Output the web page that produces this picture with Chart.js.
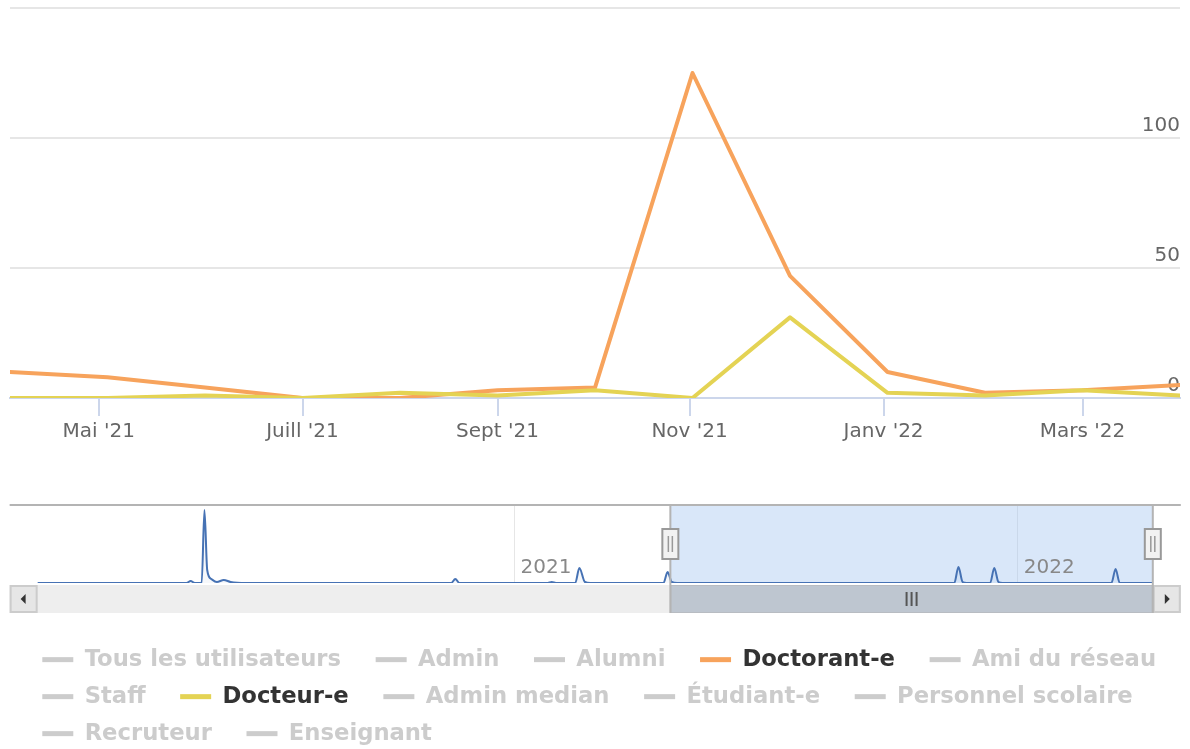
<!DOCTYPE html>
<html>
<head>
<meta charset="utf-8">
<script src="https://cdn.jsdelivr.net/npm/chart.js@4.4.1/dist/chart.umd.min.js"></script>
<style>
body { margin: 0; background: #fff; overflow: hidden; }
canvas { display: block; }
</style>
</head>
<body>
<canvas id="mainChart" width="1190" height="470"></canvas>
<canvas id="navChart" width="1230" height="285"></canvas>
<script>
// monthly values, one point per month (Avr '21 -> Avr '22), ordinal spacing
var months = ["Avr '21", "Mai '21", "Juin '21", "Juill '21", "Août '21", "Sept '21", "Oct '21",
              "Nov '21", "Déc '21", "Janv '22", "Févr '22", "Mars '22", "Avr '22"];
var doctorant = [10, 8, 4, 0, 0, 3, 4, 125, 47, 10, 2, 3, 5];
var docteur   = [0, 0, 1, 0, 2, 1, 3, 0, 31, 2, 1, 3, 1];
// x axis ticks (month starts, in point-index units) and their labels
var tickPos    = [0.91, 3, 5, 6.97, 8.96, 11];
var tickLabels = ["Mai '21", "Juill '21", "Sept '21", "Nov '21", "Janv '22", "Mars '22"];

// legend entries (only two are switched on)
var seriesNames = ["Tous les utilisateurs", "Admin", "Alumni", "Doctorant-e", "Ami du réseau",
                   "Staff", "Docteur-e", "Admin median", "Étudiant-e", "Personnel scolaire",
                   "Recruteur", "Enseignant"];
var seriesColors = ["#7cb5ec", "#434348", "#90ed7d", "#f7a35c", "#8085e9", "#f15c80",
                    "#e4d354", "#2b908f", "#f45b5b", "#91e8e1", "#7cb5ec", "#434348"];
var shownSeries = ["Doctorant-e", "Docteur-e"];

// navigator series (daily totals, mostly zero)
var navDates = ['2020-01-21', '2020-05-08', '2020-05-11', '2020-05-14', '2020-05-19', '2020-05-21',
  '2020-05-23', '2020-05-26', '2020-05-30', '2020-06-04', '2020-06-09', '2020-06-20',
  '2020-11-16', '2020-11-19', '2020-11-22', '2021-01-25', '2021-01-28', '2021-01-31',
  '2021-02-14', '2021-02-17', '2021-02-21', '2021-02-25', '2021-04-19', '2021-04-22',
  '2021-04-25', '2021-04-29', '2021-11-16', '2021-11-19', '2021-11-22', '2021-11-25',
  '2021-12-12', '2021-12-15', '2021-12-18', '2021-12-21', '2022-03-10', '2022-03-13',
  '2022-03-16', '2022-04-09'];
var navValues = [0, 0, 2, 0, 0, 73,
  13, 4, 1, 3, 1, 0,
  0, 4, 0, 0, 1, 0,
  0, 15, 1, 0, 0, 11,
  1, 0, 0, 16, 1, 0,
  0, 15, 1, 0, 0, 14,
  0, 0];
var yearTicks = ['2021-01-01', '2022-01-01'];
var yearLabels = ['2021', '2022'];
var navViewStart = '2020-01-14', navViewEnd = '2022-06-04';
var selStart = '2021-04-24', selEnd = '2022-04-09';

var FONT = 'DejaVu Sans';
Chart.defaults.font.family = FONT;

function day(s) {
  var p = s.split('-');
  return (Date.UTC(+p[0], p[1] - 1, +p[2]) - Date.UTC(2020, 0, 1)) / 86400000;
}

new Chart(document.getElementById('mainChart'), {
  type: 'line',
  data: {
    datasets: [
      {
        label: 'Docteur-e',
        data: docteur.map(function(v, i) { return {x: i, y: v}; }),
        borderColor: '#e4d354',
        borderWidth: 4
      },
      {
        label: 'Doctorant-e',
        data: doctorant.map(function(v, i) { return {x: i, y: v}; }),
        borderColor: '#f7a35c',
        borderWidth: 4
      }
    ]
  },
  options: {
    responsive: false,
    animation: false,
    layout: {padding: {top: 8, left: 10, right: 10, bottom: 0}},
    elements: {
      point: {radius: 0},
      line: {tension: 0, borderJoinStyle: 'round', borderCapStyle: 'round'}
    },
    plugins: {legend: {display: false}, tooltip: {enabled: false}},
    scales: {
      x: {
        type: 'linear',
        min: 0,
        max: months.length - 1,
        afterBuildTicks: function(s) { s.ticks = tickPos.map(function(v) { return {value: v}; }); },
        afterFit: function(s) { s.height = 72; s.paddingLeft = 0; s.paddingRight = 0; },
        ticks: {
          callback: function(v, i) { return tickLabels[i]; },
          color: '#666666',
          font: {size: 20},
          padding: 4,
          maxRotation: 0,
          autoSkip: false
        },
        grid: {drawOnChartArea: false, tickLength: 18, color: '#ccd6eb', lineWidth: 2},
        border: {color: '#ccd6eb', width: 2}
      },
      y: {
        position: 'right',
        min: 0,
        max: 150,
        afterFit: function(s) { s.width = 0; s.paddingTop = 0; s.paddingBottom = 0; },
        ticks: {
          stepSize: 50,
          mirror: true,
          padding: 0,
          labelOffset: -12,
          color: '#666666',
          font: {size: 20},
          callback: function(v) { return v >= 150 ? '' : v; }
        },
        grid: {color: '#e6e6e6', lineWidth: 2, drawTicks: false},
        border: {display: false}
      }
    }
  }
});

// navigator mask, outline, handles, year labels and scrollbar
var navDecor = {
  id: 'navDecor',
  beforeDatasetsDraw: function(chart) {
    var ctx = chart.ctx, a = chart.chartArea, x = chart.scales.x;
    var x1 = x.getPixelForValue(day(selStart)), x2 = x.getPixelForValue(day(selEnd));
    ctx.save();
    ctx.fillStyle = 'rgba(160,196,240,0.4)';
    ctx.fillRect(x1, a.top, x2 - x1, a.bottom - a.top);
    ctx.restore();
  },
  afterDatasetsDraw: function(chart) {
    var ctx = chart.ctx, a = chart.chartArea, x = chart.scales.x;
    var n0 = x.getPixelForValue(day(navDates[0]));
    var n1 = x.getPixelForValue(day(navDates[navDates.length - 1]));
    var x1 = x.getPixelForValue(day(selStart)), x2 = x.getPixelForValue(day(selEnd));
    var sb = 28, sy = a.bottom + 2;
    ctx.save();

    // year labels
    ctx.fillStyle = '#888888';
    ctx.font = '20px "' + FONT + '"';
    ctx.textBaseline = 'middle';
    ctx.textAlign = 'left';
    yearTicks.forEach(function(d, i) {
      ctx.fillText(yearLabels[i], x.getPixelForValue(day(d)) + 6, a.bottom - 15);
    });

    // scrollbar track + buttons
    ctx.fillStyle = '#eeeeee';
    ctx.fillRect(n0, sy, n1 - n0, sb);
    ctx.fillStyle = '#bec6d0';
    ctx.fillRect(x1, sy, x2 - x1, sb);
    ctx.strokeStyle = '#b8bcc2';
    ctx.lineWidth = 1;
    ctx.strokeRect(x1 + 0.5, sy + 0.5, x2 - x1 - 1, sb - 1);
    [n0 - sb, n1].forEach(function(bx) {
      ctx.fillStyle = '#e6e6e6';
      ctx.fillRect(bx, sy, sb, sb);
      ctx.strokeStyle = '#cccccc';
      ctx.lineWidth = 2;
      ctx.strokeRect(bx + 1, sy + 1, sb - 2, sb - 2);
    });
    ctx.fillStyle = '#333333';
    var cy = sy + sb / 2;
    ctx.beginPath();
    ctx.moveTo(n0 - sb / 2 - 3, cy); ctx.lineTo(n0 - sb / 2 + 2, cy - 5); ctx.lineTo(n0 - sb / 2 + 2, cy + 5);
    ctx.closePath(); ctx.fill();
    ctx.beginPath();
    ctx.moveTo(n1 + sb / 2 + 3, cy); ctx.lineTo(n1 + sb / 2 - 2, cy - 5); ctx.lineTo(n1 + sb / 2 - 2, cy + 5);
    ctx.closePath(); ctx.fill();
    // thumb grip
    var gx = (x1 + x2) / 2;
    ctx.strokeStyle = '#555555';
    ctx.lineWidth = 2;
    [-5, 0, 5].forEach(function(o) {
      ctx.beginPath(); ctx.moveTo(gx + o, cy - 7); ctx.lineTo(gx + o, cy + 7); ctx.stroke();
    });

    // outline
    ctx.strokeStyle = '#b4b4b4';
    ctx.lineWidth = 2;
    ctx.beginPath();
    ctx.moveTo(n0 - sb, a.top); ctx.lineTo(n1 + sb, a.top);
    ctx.moveTo(x1, a.top); ctx.lineTo(x1, sy + sb);
    ctx.moveTo(x2, a.top); ctx.lineTo(x2, sy + sb);
    ctx.stroke();

    // handles
    [x1, x2].forEach(function(hx) {
      ctx.fillStyle = '#f2f2f2';
      ctx.fillRect(hx - 8, a.top + 24, 16, 30);
      ctx.strokeStyle = '#999999';
      ctx.lineWidth = 2;
      ctx.strokeRect(hx - 8, a.top + 24, 16, 30);
      ctx.lineWidth = 1.5;
      ctx.beginPath();
      ctx.moveTo(hx - 2, a.top + 31); ctx.lineTo(hx - 2, a.top + 47);
      ctx.moveTo(hx + 2, a.top + 31); ctx.lineTo(hx + 2, a.top + 47);
      ctx.stroke();
    });
    ctx.restore();
  }
};

new Chart(document.getElementById('navChart'), {
  type: 'line',
  data: {
    datasets: [{
      data: navDates.map(function(d, i) { return {x: day(d), y: navValues[i]}; }),
      borderColor: '#4672b4',
      borderWidth: 2,
      backgroundColor: 'rgba(70,114,180,0.05)',
      fill: true,
      cubicInterpolationMode: 'monotone',
      pointRadius: 0
    }]
  },
  options: {
    responsive: false,
    animation: false,
    layout: {padding: {top: 35, left: 28, right: 0, bottom: 0}},
    plugins: {
      tooltip: {enabled: false},
      legend: {
        position: 'bottom',
        align: 'start',
        labels: {
          boxWidth: 31,
          boxHeight: 5,
          padding: 14.3,
          font: {size: 22.7, weight: 'bold'},
          generateLabels: function() {
            return seriesNames.map(function(name, i) {
              var on = shownSeries.indexOf(name) >= 0;
              return {
                text: name + '\u00a0\u00a0\u2009',
                fillStyle: on ? seriesColors[i] : '#cccccc',
                strokeStyle: on ? seriesColors[i] : '#cccccc',
                lineWidth: 0,
                fontColor: on ? '#333333' : '#cccccc',
                hidden: false,
                datasetIndex: 0
              };
            });
          }
        }
      }
    },
    scales: {
      x: {
        type: 'linear',
        min: day(navViewStart),
        max: day(navViewEnd),
        afterBuildTicks: function(s) { s.ticks = yearTicks.map(function(d) { return {value: day(d)}; }); },
        afterFit: function(s) { s.height = 51; },
        ticks: {display: false},
        grid: {color: '#e6e6e6', lineWidth: 1, drawTicks: false},
        border: {display: false}
      },
      y: {display: false, min: 0, max: 78}
    }
  },
  plugins: [navDecor]
});
</script>
</body>
</html>
